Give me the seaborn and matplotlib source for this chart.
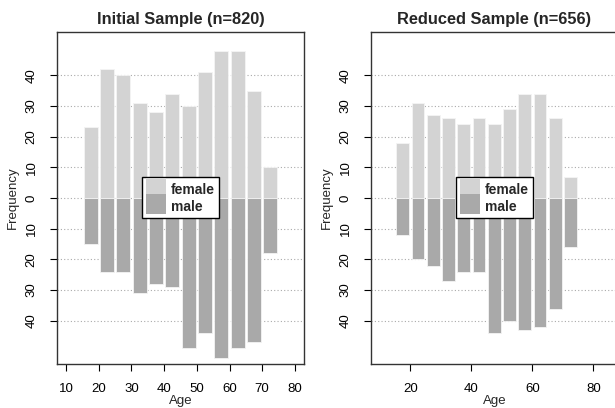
import matplotlib.pyplot as plt
import seaborn as sns
import pandas as pd
from matplotlib.patches import Patch, Rectangle
from matplotlib.legend_handler import HandlerPatch

# age bins of width 5, bar centres
age_mid = [17.5, 22.5, 27.5, 32.5, 37.5, 42.5, 47.5, 52.5, 57.5, 62.5, 67.5, 72.5]

initial_female = [23, 42, 40, 31, 28, 34, 30, 41, 48, 48, 35, 10]
initial_male = [15, 24, 24, 31, 28, 29, 49, 44, 52, 49, 47, 18]
reduced_female = [18, 31, 27, 26, 24, 26, 24, 29, 34, 34, 26, 7]
reduced_male = [12, 20, 22, 27, 24, 24, 44, 40, 43, 42, 36, 16]

y_ticks = [-40, -30, -20, -10, 0, 10, 20, 30, 40]
palette = {"female": "#d3d3d3", "male": "#a9a9a9"}

sns.set_theme(style="white")
plt.rcParams["font.family"] = ["Liberation Sans", "DejaVu Sans"]


def full_box(legend, orig_handle, xdescent, ydescent, width, height, fontsize):
    # fill the whole handle cell so the two swatches touch
    return Rectangle((-xdescent, -ydescent), width, height + ydescent)


def draw(ax, female, male, title, xlim, xticks, legend_x):
    df = pd.DataFrame({
        "age": age_mid * 2,
        "count": female + [-m for m in male],
        "sex": ["female"] * len(female) + ["male"] * len(male),
    })
    sns.barplot(data=df, x="age", y="count", hue="sex", palette=palette,
                native_scale=True, dodge=False, width=0.84, errorbar=None,
                edgecolor="#f4f4f4", linewidth=0.6, legend=False, ax=ax,
                zorder=2)
    ax.set_axisbelow(True)
    ax.yaxis.grid(True, linestyle=(0, (1, 2)), color="#aaaaaa", linewidth=0.8)
    ax.xaxis.grid(False)

    ax.set_xlim(*xlim)
    ax.set_ylim(-54.08, 54.08)
    ax.set_xticks(xticks)
    ax.set_xticklabels([str(t) for t in xticks])
    ax.set_yticks(y_ticks)
    ax.set_yticklabels([str(abs(t)) for t in y_ticks], rotation=90, va="center")
    ax.tick_params(axis="both", length=5, width=0.8, color="black",
                   labelsize=9.5, labelcolor="black", bottom=True, left=True)
    ax.tick_params(axis="y", pad=9)
    ax.tick_params(axis="x", pad=9)
    for s in ax.spines.values():
        s.set_color("#333333")
        s.set_linewidth(1.0)

    ax.set_title(title, fontsize=11.8, fontweight="bold", pad=6)
    ax.set_xlabel("Age", fontsize=9.5, labelpad=0)
    ax.set_ylabel("Frequency", fontsize=9.5, labelpad=5)

    handles = [Patch(facecolor=palette["female"], edgecolor="none", label="female"),
               Patch(facecolor=palette["male"], edgecolor="none", label="male")]
    leg = ax.legend(handles=handles, loc="center", bbox_to_anchor=(legend_x, 0.1),
                    bbox_transform=ax.transData, frameon=True, fancybox=False,
                    framealpha=1, edgecolor="black", prop={"weight": "bold", "size": 10},
                    labelspacing=0.0, handlelength=1.45, handleheight=1.45,
                    handletextpad=0.3, borderpad=0.3, borderaxespad=0,
                    handler_map={Patch: HandlerPatch(patch_func=full_box)})
    leg.get_frame().set_linewidth(1.0)
    leg.set_zorder(5)


fig = plt.figure(figsize=(6.15, 4.08), dpi=100)
ax1 = fig.add_axes([57 / 615, 1 - 364 / 408, 247 / 615, 332 / 408])
ax2 = fig.add_axes([371 / 615, 1 - 364 / 408, 247 / 615, 332 / 408])

draw(ax1, initial_female, initial_male, "Initial Sample (n=820)",
     (7.2, 82.8), [10, 20, 30, 40, 50, 60, 70, 80], 45.0)
draw(ax2, reduced_female, reduced_male, "Reduced Sample (n=656)",
     (7.1, 88.1), [20, 40, 60, 80], 47.6)

fig.savefig("out.png", dpi=100)
plt.close(fig)
